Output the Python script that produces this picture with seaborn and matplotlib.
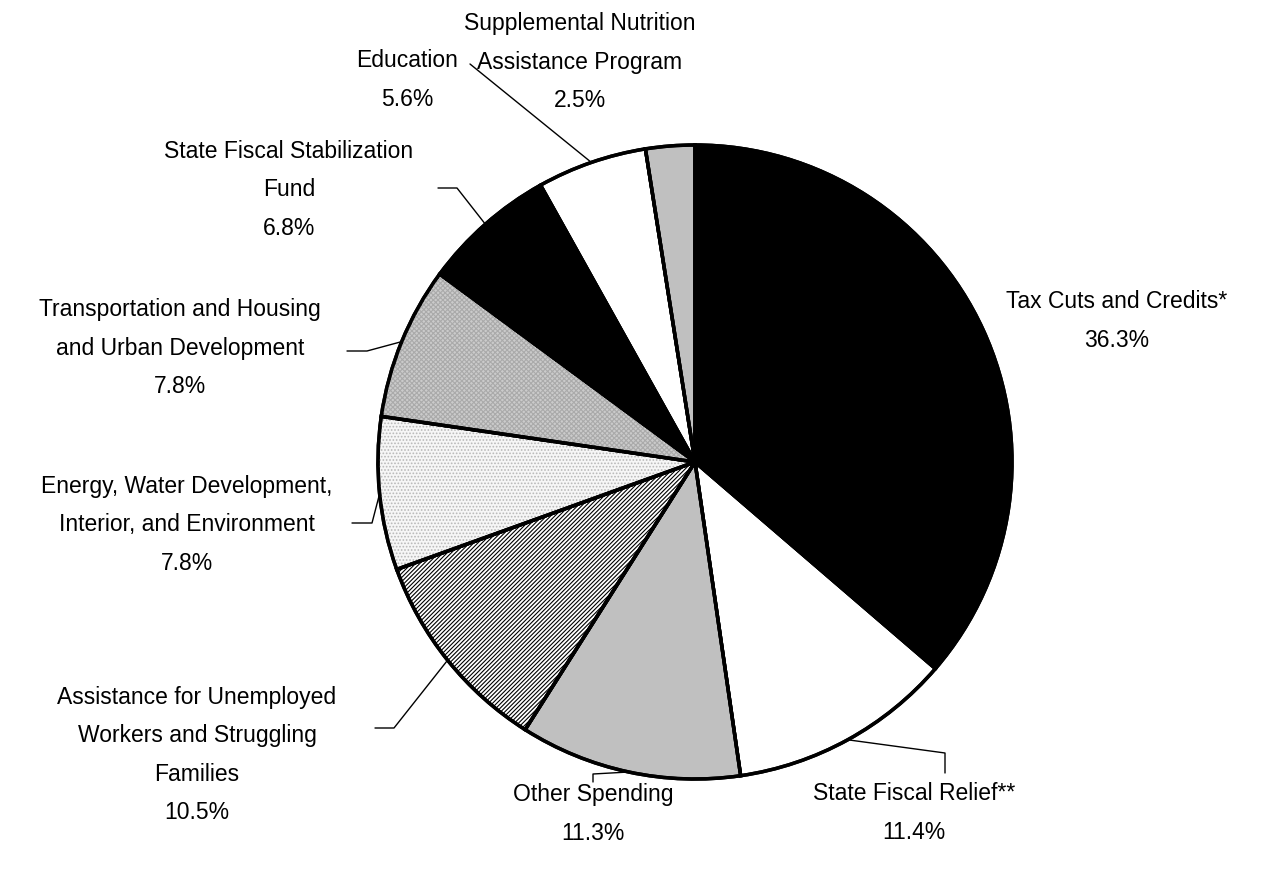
import matplotlib
matplotlib.use("Agg")
import matplotlib.pyplot as plt
import seaborn as sns
import numpy as np
from matplotlib.patches import Wedge

# data
categories = [
    "Tax Cuts and Credits*",
    "State Fiscal Relief**",
    "Other Spending",
    "Assistance for Unemployed\nWorkers and Struggling\nFamilies",
    "Energy, Water Development,\nInterior, and Environment",
    "Transportation and Housing\nand Urban Development",
    "State Fiscal Stabilization\nFund",
    "Education",
    "Supplemental Nutrition\nAssistance Program",
]
shares = [36.3, 11.4, 11.3, 10.5, 7.8, 7.8, 6.8, 5.6, 2.5]

# styles
face_colors = ["black", "white", "#c0c0c0", "white", "#f6f6f6",
               "#cbcbcb", "black", "white", "#c0c0c0"]
hatches = [None, None, None, "////////", ".....", "xxxxxxx", None, None, None]
hatch_colors = [None, None, None, "black", "#b8b8b8", "#aaaaaa", None, None, None]

# label layout in pixels (text centre), leader elbows in pixels
label_pos = [(1117, 321), (914, 813), (593, 814), (197, 755), (187, 525),
             (180, 348), (289, 190), (407, 80), (580, 62)]
leaders = [
    None,
    [(945, 753), (945, 773)],
    [(593, 774), (593, 782)],
    [(394, 728), (375, 728)],
    [(372, 523), (352, 523)],
    [(367, 351), (347, 351)],
    [(457, 188), (438, 188)],
    [(470, 64)],
    None,
]

W, H = 1267, 876
center = (695, H - 462)
radius = 317

sns.set_theme(style="white")
plt.rcParams["font.family"] = ["Liberation Sans", "DejaVu Sans"]
plt.rcParams["hatch.linewidth"] = 0.8

fig = plt.figure(figsize=(W / 100, H / 100), dpi=100)
ax = fig.add_axes([0, 0, 1, 1])

wedges, _ = ax.pie(shares, colors=face_colors, startangle=90, counterclock=False,
                   center=center, radius=radius,
                   wedgeprops=dict(edgecolor="black", linewidth=2.5, zorder=1))

for w, h, hc in zip(wedges, hatches, hatch_colors):
    if h:
        ax.add_patch(Wedge(w.center, w.r, w.theta1, w.theta2, facecolor="none",
                           edgecolor=hc, hatch=h, linewidth=0, zorder=2))
    ax.add_patch(Wedge(w.center, w.r, w.theta1, w.theta2, facecolor="none",
                       edgecolor="black", linewidth=2.5, zorder=3))

for w, name, share, pos, lead in zip(wedges, categories, shares, label_pos, leaders):
    ax.text(pos[0], H - pos[1], f"{name}\n{share:.1f}%", ha="center", va="center",
            fontsize=16.5, linespacing=1.85, color="black")
    if lead:
        mid = np.deg2rad((w.theta1 + w.theta2) / 2)
        xs = [center[0] + radius * np.cos(mid)] + [p[0] for p in lead]
        ys = [center[1] + radius * np.sin(mid)] + [H - p[1] for p in lead]
        ax.plot(xs, ys, color="black", linewidth=1.0, zorder=0)

ax.set_xlim(0, W)
ax.set_ylim(0, H)
ax.set_aspect("equal")
ax.axis("off")

fig.savefig("out.png", dpi=100, facecolor="white")
